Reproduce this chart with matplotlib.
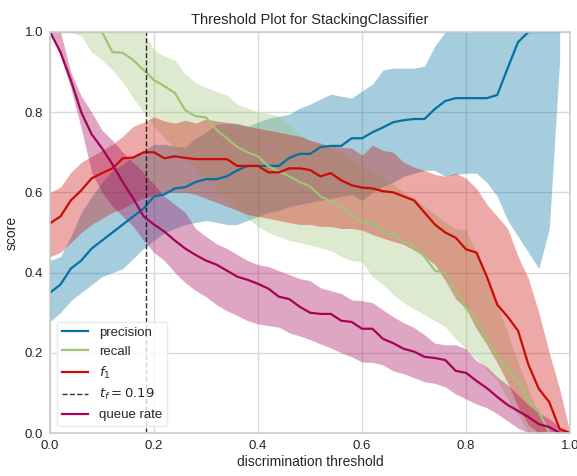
import numpy as np
import matplotlib
matplotlib.use("Agg")
import matplotlib.pyplot as plt

nan = np.nan

# threshold grid (51 steps)
thresholds = np.round(np.arange(51) * 0.02, 2)

precision_med = [0.35, 0.37, 0.41, 0.43, 0.46, 0.48, 0.50, 0.52, 0.54, 0.56,
                 0.59, 0.595, 0.61, 0.613, 0.626, 0.633, 0.633, 0.64, 0.655, 0.666,
                 0.666, 0.666, 0.666, 0.686, 0.696, 0.696, 0.713, 0.716, 0.716, 0.735,
                 0.735, 0.75, 0.762, 0.775, 0.78, 0.783, 0.783, 0.808, 0.828, 0.835,
                 0.835, 0.835, 0.835, 0.843, 0.91, 0.975, 1.0, 1.0, 1.0, 1.0, nan]
precision_hi = [0.43, 0.44, 0.49, 0.55, 0.59, 0.625, 0.655, 0.67, 0.69, 0.705,
                0.72, 0.72, 0.715, 0.713, 0.735, 0.75, 0.77, 0.772, 0.773, 0.765,
                0.775, 0.785, 0.79, 0.795, 0.81, 0.82, 0.833, 0.845, 0.84, 0.835,
                0.853, 0.87, 0.905, 0.91, 0.91, 0.91, 0.915, 0.965, 1.0, 1.0,
                1.0, 1.0, 1.0, 1.0, 1.0, 1.0, 1.0, 1.0, 1.0, 1.0, nan]
precision_lo = [0.278, 0.30, 0.33, 0.35, 0.37, 0.39, 0.40, 0.41, 0.435, 0.46,
                0.48, 0.50, 0.51, 0.52, 0.525, 0.53, 0.525, 0.52, 0.52, 0.53,
                0.54, 0.55, 0.555, 0.565, 0.57, 0.575, 0.58, 0.585, 0.59, 0.595,
                0.58, 0.60, 0.615, 0.625, 0.64, 0.648, 0.655, 0.655, 0.64, 0.645,
                0.648, 0.648, 0.625, 0.59, 0.53, 0.49, 0.45, 0.41, 0.51, 0.93, nan]

recall_med = [1.0, 1.0, 1.0, 1.0, 1.0, 1.0, 0.95, 0.948, 0.93, 0.905,
              0.88, 0.865, 0.848, 0.805, 0.79, 0.787, 0.756, 0.735, 0.713, 0.70,
              0.69, 0.665, 0.652, 0.64, 0.626, 0.615, 0.59, 0.578, 0.565, 0.544,
              0.525, 0.522, 0.50, 0.495, 0.478, 0.466, 0.44, 0.405, 0.399, 0.355,
              0.312, 0.28, 0.235, 0.19, 0.16, 0.13, 0.08, 0.053, 0.0, 0.0, 0.0]
recall_hi = [1.0, 1.0, 1.0, 1.0, 1.0, 1.0, 1.0, 1.0, 1.0, 1.0,
             0.955, 0.94, 0.93, 0.895, 0.873, 0.862, 0.852, 0.842, 0.82, 0.81,
             0.80, 0.797, 0.79, 0.77, 0.745, 0.73, 0.72, 0.71, 0.70, 0.68,
             0.665, 0.65, 0.635, 0.62, 0.60, 0.585, 0.565, 0.545, 0.525, 0.51,
             0.506, 0.45, 0.39, 0.32, 0.25, 0.175, 0.11, 0.04, 0.0, 0.0, 0.0]
recall_lo = [1.0, 1.0, 1.0, 0.99, 0.95, 0.93, 0.905, 0.875, 0.835, 0.80,
             0.765, 0.735, 0.71, 0.685, 0.66, 0.635, 0.61, 0.585, 0.56, 0.535,
             0.515, 0.50, 0.49, 0.48, 0.475, 0.469, 0.462, 0.455, 0.44, 0.43,
             0.427, 0.39, 0.37, 0.345, 0.325, 0.31, 0.295, 0.28, 0.265, 0.235,
             0.21, 0.185, 0.158, 0.13, 0.085, 0.045, 0.0, 0.0, 0.0, 0.0, 0.0]

f1_med = [0.523, 0.54, 0.58, 0.605, 0.635, 0.648, 0.66, 0.685, 0.687, 0.70,
          0.70, 0.685, 0.69, 0.686, 0.683, 0.683, 0.683, 0.683, 0.666, 0.666,
          0.666, 0.65, 0.65, 0.66, 0.66, 0.656, 0.64, 0.648, 0.63, 0.618,
          0.612, 0.61, 0.603, 0.60, 0.59, 0.58, 0.55, 0.52, 0.50, 0.487,
          0.458, 0.45, 0.39, 0.32, 0.29, 0.255, 0.17, 0.11, 0.077, 0.01, 0.0]
f1_hi = [0.60, 0.613, 0.65, 0.675, 0.69, 0.705, 0.72, 0.74, 0.765, 0.775,
         0.788, 0.778, 0.773, 0.78, 0.773, 0.783, 0.778, 0.775, 0.77, 0.765,
         0.76, 0.755, 0.75, 0.745, 0.74, 0.73, 0.723, 0.715, 0.713, 0.71,
         0.693, 0.718, 0.705, 0.70, 0.675, 0.663, 0.655, 0.645, 0.64, 0.648,
         0.635, 0.61, 0.57, 0.54, 0.51, 0.44, 0.385, 0.30, 0.20, 0.11, 0.0]
f1_lo = [0.44, 0.45, 0.475, 0.50, 0.52, 0.535, 0.55, 0.56, 0.575, 0.585,
         0.595, 0.60, 0.60, 0.60, 0.595, 0.585, 0.575, 0.565, 0.555, 0.545,
         0.54, 0.535, 0.53, 0.525, 0.52, 0.52, 0.515, 0.515, 0.51, 0.51,
         0.506, 0.495, 0.486, 0.478, 0.47, 0.456, 0.44, 0.42, 0.38, 0.335,
         0.31, 0.26, 0.22, 0.175, 0.125, 0.065, 0.02, 0.0, 0.0, 0.0, 0.0]

queue_med = [1.0, 0.95, 0.88, 0.80, 0.745, 0.71, 0.67, 0.625, 0.585, 0.54,
             0.52, 0.502, 0.48, 0.46, 0.444, 0.43, 0.42, 0.405, 0.39, 0.382,
             0.372, 0.36, 0.34, 0.334, 0.315, 0.30, 0.297, 0.297, 0.28, 0.277,
             0.26, 0.26, 0.235, 0.224, 0.21, 0.203, 0.19, 0.187, 0.182, 0.155,
             0.15, 0.13, 0.112, 0.09, 0.07, 0.055, 0.04, 0.022, 0.015, 0.0, 0.0]
queue_hi = [1.0, 1.0, 0.90, 0.84, 0.80, 0.755, 0.73, 0.70, 0.675, 0.65,
            0.62, 0.59, 0.57, 0.55, 0.51, 0.49, 0.472, 0.46, 0.445, 0.43,
            0.42, 0.415, 0.405, 0.395, 0.385, 0.38, 0.362, 0.355, 0.348, 0.332,
            0.33, 0.325, 0.307, 0.29, 0.275, 0.263, 0.245, 0.224, 0.22, 0.22,
            0.21, 0.18, 0.165, 0.14, 0.12, 0.095, 0.07, 0.05, 0.035, 0.015, 0.0]
queue_lo = [1.0, 0.94, 0.86, 0.76, 0.65, 0.60, 0.565, 0.54, 0.515, 0.48,
            0.45, 0.43, 0.40, 0.375, 0.355, 0.34, 0.32, 0.305, 0.293, 0.28,
            0.272, 0.268, 0.264, 0.25, 0.242, 0.233, 0.222, 0.212, 0.20, 0.19,
            0.177, 0.176, 0.17, 0.155, 0.148, 0.138, 0.128, 0.124, 0.115, 0.097,
            0.085, 0.072, 0.063, 0.048, 0.03, 0.012, 0.0, 0.0, 0.0, 0.0, 0.0]

best_threshold = 0.184
best_label = '$t_f = 0.19$'

plt.rcParams['font.family'] = ['Liberation Sans', 'DejaVu Sans']
plt.rcParams['axes.edgecolor'] = '#cccccc'
plt.rcParams['text.color'] = '#262626'
plt.rcParams['axes.labelcolor'] = '#262626'
plt.rcParams['xtick.color'] = '#262626'
plt.rcParams['ytick.color'] = '#262626'

fig = plt.figure(figsize=(5.77, 4.76), dpi=100)
ax = fig.add_axes([0.0867, 0.0903, 0.9013, 0.8425])

series = [
    ('precision', precision_med, precision_lo, precision_hi, '#0272a2'),
    ('recall', recall_med, recall_lo, recall_hi, '#9fc377'),
    ('$f_1$', f1_med, f1_lo, f1_hi, '#ca0b03'),
    ('queue rate', queue_med, queue_lo, queue_hi, '#a50258'),
]

for name, med, lo, hi, color in series:
    ax.plot(thresholds, med, color=color, lw=1.6, label=name)
    ax.fill_between(thresholds, lo, hi, color=color, alpha=0.35, lw=0)
    if name == '$f_1$':
        ax.axvline(best_threshold, ls='--', color='k', lw=1, alpha=0.8,
                   label=best_label)

ax.set_xlim(0, 1)
ax.set_ylim(0, 1)
ax.set_xticks([0.0, 0.2, 0.4, 0.6, 0.8, 1.0])
ax.set_yticks([0.0, 0.2, 0.4, 0.6, 0.8, 1.0])
ax.tick_params(labelsize=9.5, length=0, pad=5)
ax.grid(True, color='#d9d9d9', lw=1)
ax.set_axisbelow(True)
for s in ax.spines.values():
    s.set_linewidth(1.2)

ax.set_title('Threshold Plot for StackingClassifier', fontsize=10.5)
ax.set_xlabel('discrimination threshold', fontsize=10, labelpad=2)
ax.set_ylabel('score', fontsize=10)
ax.legend(loc='lower left', frameon=True, facecolor='white', edgecolor='#e5e5e5',
          framealpha=0.8, fontsize=9.5)

fig.savefig('out.png', dpi=100)
